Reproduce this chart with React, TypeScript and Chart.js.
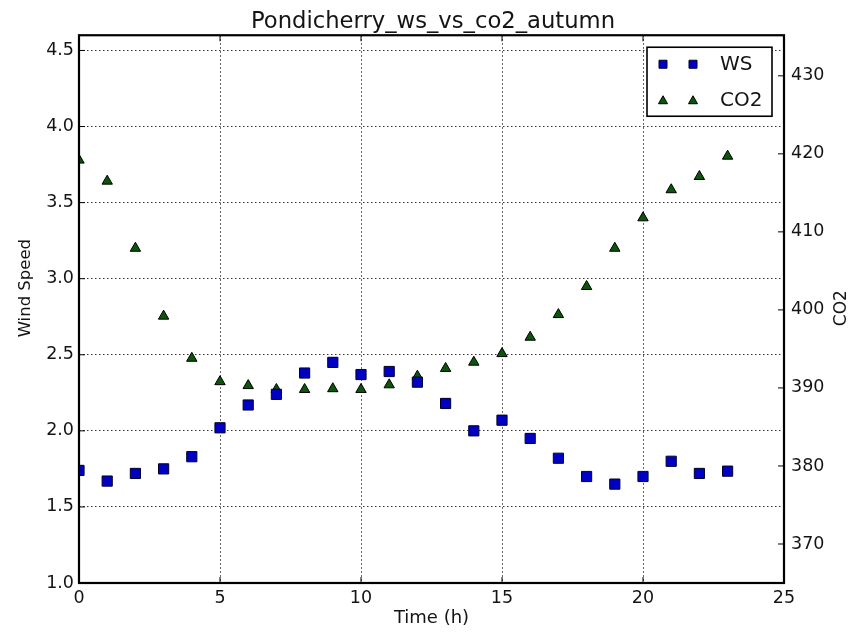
import React, { useEffect, useRef } from 'react';
import { Chart, registerables } from 'chart.js';

Chart.register(...registerables);

const TITLE = 'Pondicherry_ws_vs_co2_autumn';
const X_LABEL = 'Time (h)';
const Y_LEFT_LABEL = 'Wind Speed';
const Y_RIGHT_LABEL = 'CO2';

const hours = [0, 1, 2, 3, 4, 5, 6, 7, 8, 9, 10, 11, 12, 13, 14, 15, 16, 17, 18, 19, 20, 21, 22, 23];
const windSpeed = [1.74, 1.67, 1.72, 1.75, 1.83, 2.02, 2.17, 2.24, 2.38, 2.45, 2.37, 2.39, 2.32, 2.18, 2.0, 2.07, 1.95, 1.82, 1.7, 1.65, 1.7, 1.8, 1.72, 1.735];
const co2 = [419.2, 416.5, 407.9, 399.2, 393.8, 390.8, 390.3, 389.8, 389.8, 389.9, 389.8, 390.4, 391.5, 392.5, 393.3, 394.4, 396.5, 399.4, 403.0, 407.9, 411.8, 415.4, 417.1, 419.7];

const X_MIN = 0;
const X_MAX = 25;
const X_STEP = 5;
const WS_MIN = 1.0;
const WS_MAX = 4.6;
const WS_STEP = 0.5;
const CO2_MIN = 365;
const CO2_MAX = 435.2;
const CO2_STEP = 10;

const FONT = "'DejaVu Sans', 'Bitstream Vera Sans', Verdana, sans-serif";
const TEXT = '#141414';
const WS_FILL = '#0000c4';
const WS_EDGE = '#00002a';
const CO2_FILL = '#0a560a';
const CO2_EDGE = '#000000';

export default function App() {
  const ref = useRef<HTMLCanvasElement | null>(null);

  useEffect(() => {
    if (!ref.current) return;

    const decorPlugin = {
      id: 'decor',
      afterDatasetsDraw(chart: any) {
        const { ctx, chartArea: a, scales } = chart;
        ctx.save();
        const line = (x1: number, y1: number, x2: number, y2: number) => {
          ctx.beginPath();
          ctx.moveTo(x1, y1);
          ctx.lineTo(x2, y2);
          ctx.stroke();
        };
        // inward ticks
        ctx.strokeStyle = '#000';
        ctx.lineWidth = 1;
        const L = 6;
        scales.x.ticks.forEach((t: any) => {
          const px = scales.x.getPixelForValue(t.value);
          line(px, a.bottom, px, a.bottom - L);
          line(px, a.top, px, a.top + L);
        });
        scales.y.ticks.forEach((t: any) => {
          const py = scales.y.getPixelForValue(t.value);
          line(a.left, py, a.left + L, py);
        });
        scales.y2.ticks.forEach((t: any) => {
          const py = scales.y2.getPixelForValue(t.value);
          line(a.right, py, a.right - L, py);
        });
        // frame
        ctx.lineWidth = 2.2;
        ctx.strokeRect(a.left, a.top, a.right - a.left, a.bottom - a.top);

        // axis titles (bottom-to-top)
        ctx.fillStyle = TEXT;
        ctx.textAlign = 'center';
        ctx.textBaseline = 'middle';
        ctx.save();
        ctx.font = `16.5px ${FONT}`;
        ctx.translate(26, (a.top + a.bottom) / 2 - 21);
        ctx.rotate(-Math.PI / 2);
        ctx.fillText(Y_LEFT_LABEL, 0, 0);
        ctx.restore();
        ctx.save();
        ctx.font = `17px ${FONT}`;
        ctx.translate(a.right + 58, (a.top + a.bottom) / 2 - 1);
        ctx.rotate(-Math.PI / 2);
        ctx.fillText(Y_RIGHT_LABEL, 0, 0);
        ctx.restore();

        // legend
        const bw = 125;
        const bh = 69;
        const bx = a.right - 12 - bw;
        const by = a.top + 12;
        ctx.fillStyle = '#fff';
        ctx.fillRect(bx, by, bw, bh);
        ctx.strokeStyle = '#000';
        ctx.lineWidth = 1.6;
        ctx.strokeRect(bx, by, bw, bh);
        const rows = [by + 17, by + 53];
        const mxs = [bx + 16, bx + 46];
        chart.data.datasets.forEach((ds: any, i: number) => {
          const cy = rows[i];
          mxs.forEach((mx) => {
            ctx.beginPath();
            if (ds.pointStyle === 'rect') {
              ctx.rect(mx - 4, cy - 4, 8, 8);
            } else {
              ctx.moveTo(mx, cy - 4.5);
              ctx.lineTo(mx + 4.5, cy + 3.5);
              ctx.lineTo(mx - 4.5, cy + 3.5);
              ctx.closePath();
            }
            ctx.fillStyle = ds.backgroundColor;
            ctx.fill();
            ctx.strokeStyle = ds.borderColor;
            ctx.lineWidth = 1;
            ctx.stroke();
          });
          ctx.fillStyle = TEXT;
          ctx.font = `20px ${FONT}`;
          ctx.textAlign = 'left';
          ctx.textBaseline = 'middle';
          ctx.fillText(ds.label, bx + 73, cy + 1);
        });
        ctx.restore();
      },
    };

    const gridCommon = {
      color: 'rgba(0,0,0,0.8)',
      lineWidth: 1,
      drawTicks: false,
    };

    const chart = new Chart(ref.current, {
      type: 'scatter',
      data: {
        datasets: [
          {
            label: 'WS',
            data: hours.map((h, i) => ({ x: h, y: windSpeed[i] })),
            yAxisID: 'y',
            pointStyle: 'rect',
            pointRadius: 7.2,
            backgroundColor: WS_FILL,
            borderColor: WS_EDGE,
            borderWidth: 1,
            clip: 0,
          },
          {
            label: 'CO2',
            data: hours.map((h, i) => ({ x: h, y: co2[i] })),
            yAxisID: 'y2',
            pointStyle: 'triangle',
            pointRadius: 6,
            backgroundColor: CO2_FILL,
            borderColor: CO2_EDGE,
            borderWidth: 1,
            clip: 0,
          },
        ],
      },
      options: {
        animation: false,
        responsive: true,
        maintainAspectRatio: false,
        layout: { padding: 0 },
        plugins: {
          legend: { display: false },
          tooltip: { enabled: false },
          title: {
            display: true,
            text: TITLE,
            color: TEXT,
            font: { family: FONT, size: 22.7, weight: 'normal', lineHeight: 1.2 },
            padding: { top: 8, bottom: 0 },
          },
        },
        scales: {
          x: {
            type: 'linear',
            min: X_MIN,
            max: X_MAX,
            position: 'bottom',
            afterFit: (s: any) => { s.height = 50; },
            ticks: {
              stepSize: X_STEP,
              color: TEXT,
              padding: 5,
              font: { family: FONT, size: 17.5 },
              maxRotation: 0,
            },
            grid: gridCommon,
            border: { display: false, dash: [1.5, 2.5] },
            title: {
              display: true,
              text: X_LABEL,
              color: TEXT,
              font: { family: FONT, size: 18 },
              padding: { top: 0, bottom: 4 },
            },
          },
          y: {
            type: 'linear',
            min: WS_MIN,
            max: WS_MAX,
            position: 'left',
            afterFit: (s: any) => { s.width = 79; },
            ticks: {
              stepSize: WS_STEP,
              includeBounds: false,
              color: TEXT,
              padding: 5,
              font: { family: FONT, size: 17.5 },
              callback: (v: any) => Number(v).toFixed(1),
            },
            grid: gridCommon,
            border: { display: false, dash: [1.5, 2.5] },
          },
          y2: {
            type: 'linear',
            min: CO2_MIN,
            max: CO2_MAX,
            position: 'right',
            afterFit: (s: any) => { s.width = 82; },
            ticks: {
              stepSize: CO2_STEP,
              includeBounds: false,
              color: TEXT,
              padding: 7,
              font: { family: FONT, size: 17.5 },
            },
            grid: { display: false, drawOnChartArea: false, drawTicks: false },
            border: { display: false },
          },
        },
      },
      plugins: [decorPlugin],
    } as any);

    return () => chart.destroy();
  }, []);

  return (
    <div style={{ position: 'fixed', left: 0, top: 0, width: 866, height: 633, background: '#fff' }}>
      <canvas ref={ref} />
    </div>
  );
}
